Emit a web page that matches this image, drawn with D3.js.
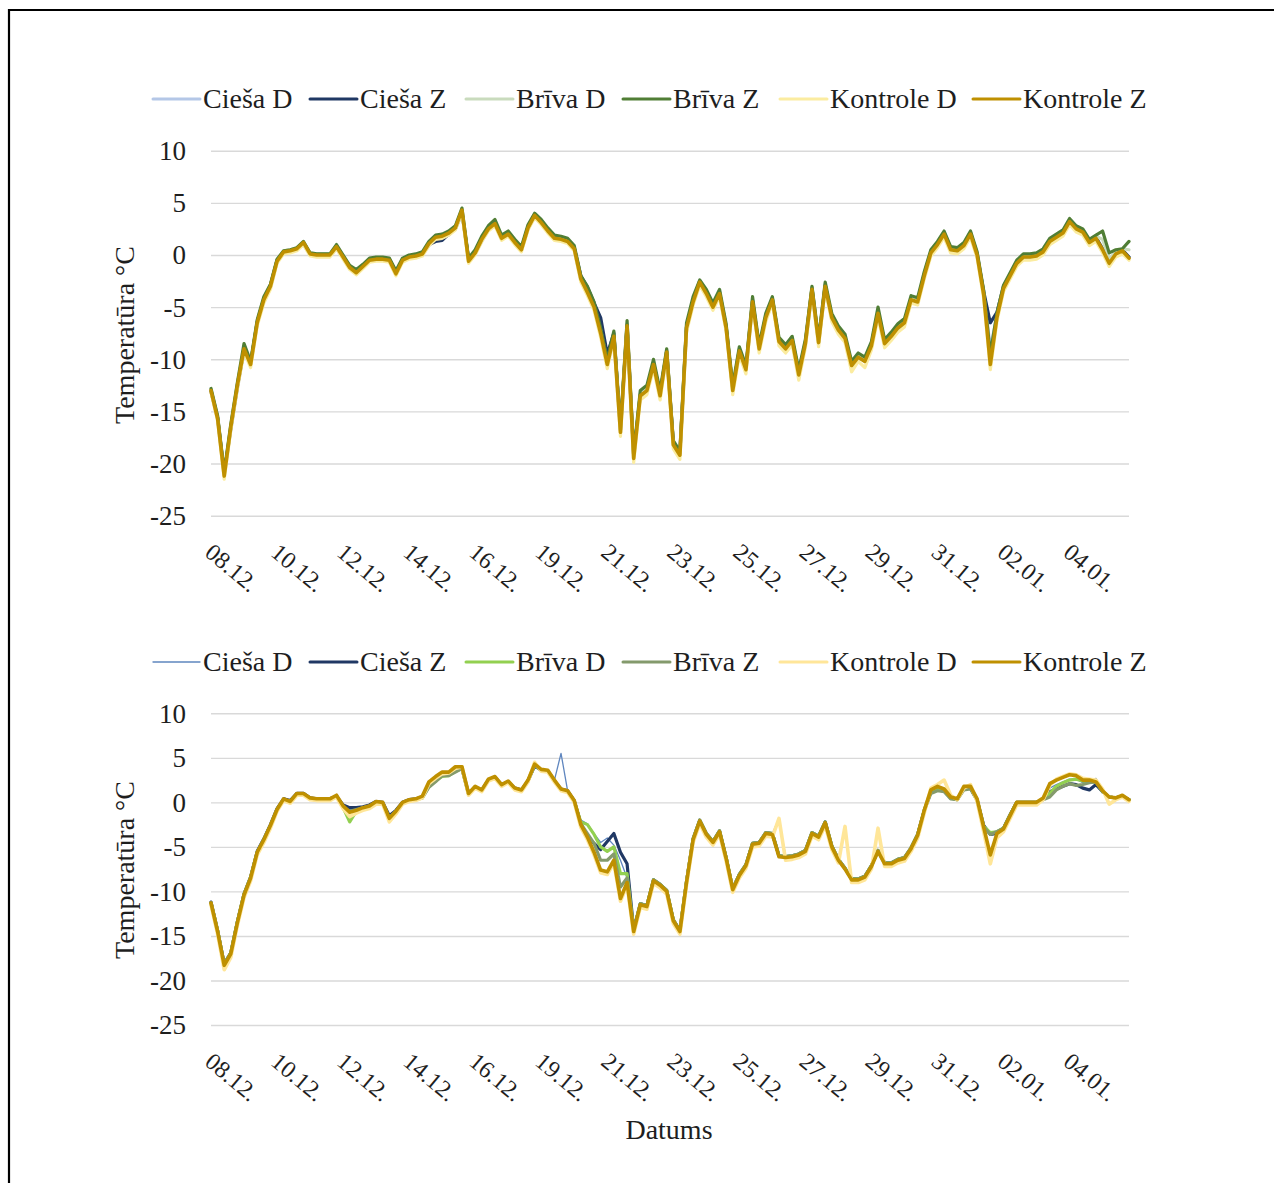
<!DOCTYPE html>
<html><head><meta charset="utf-8">
<script src="https://cdn.jsdelivr.net/npm/d3@7"></script>
<style>
body{margin:0;background:#fff;}
svg{display:block;}
text{font-family:"Liberation Serif","Times New Roman",serif;fill:#1e1e1e;}
</style>
</head><body>
<svg id="c" width="1274" height="1183"></svg>
<script>
// ---------- data ----------
const dateLabels = ["08.12.","10.12.","12.12.","14.12.","16.12.","19.12.","21.12.","23.12.","25.12.","27.12.","29.12.","31.12.","02.01.","04.01."];
const labelStep = 10;
const seriesNames = ["Cieša D","Cieša Z","Brīva D","Brīva Z","Kontrole D","Kontrole Z"];
const yTicks = [10,5,0,-5,-10,-15,-20,-25];

// Chart 1
const ciesaD1 = [-13.0,-15.5,-20.8,-16.8,-12.8,-9.2,-10.3,-6.6,-4.4,-3.1,
 -0.7,0.2,0.3,0.5,1.0,0.0,-0.1,-0.1,-0.1,0.6,
 -0.3,-1.3,-1.6,-1.2,-0.6,-0.5,-0.5,-0.6,-1.7,-0.6,
 -0.3,-0.2,0.0,0.9,1.5,1.6,1.9,2.5,3.9,-0.2,
 0.1,1.3,2.4,2.9,1.5,1.9,1.1,0.4,2.5,3.6,
 3.0,2.2,1.5,1.4,1.2,0.5,-2.4,-3.4,-4.8,-7.0,
 -10.0,-7.6,-16.5,-6.9,-19.0,-13.6,-13.1,-10.6,-13.4,-9.5,
 -18.0,-19.0,-7.2,-4.6,-2.8,-3.8,-5.1,-3.8,-7.1,-12.8,
 -9.3,-11.1,-4.7,-9.1,-6.1,-4.4,-8.4,-9.1,-8.3,-11.4,
 -8.6,-3.5,-8.5,-3.2,-6.1,-7.3,-8.1,-10.5,-9.9,-10.1,
 -8.8,-5.8,-8.6,-7.9,-7.1,-6.6,-4.4,-4.6,-2.1,0.1,
 0.9,1.9,0.4,0.2,0.8,1.9,-0.1,-3.5,-9.0,-5.8,
 -3.3,-2.1,-0.9,-0.3,-0.3,-0.2,0.2,1.2,1.6,2.0,
 3.0,2.4,2.1,1.1,1.5,0.4,-0.7,0.0,0.3,-0.2];
const ciesaZ1 = [-13.1,-15.6,-21.0,-16.6,-12.6,-9.1,-10.4,-6.4,-4.2,-2.9,
 -0.5,0.3,0.4,0.6,1.1,0.1,0.0,0.0,0.0,0.8,
 -0.1,-1.1,-1.5,-1.0,-0.4,-0.3,-0.3,-0.4,-1.6,-0.4,
 -0.1,0.0,0.2,1.0,1.3,1.4,2.0,2.5,4.1,-0.4,
 0.3,1.6,2.6,3.1,1.7,2.1,1.3,0.6,2.7,3.7,
 3.2,2.4,1.7,1.6,1.4,0.7,-2.0,-3.1,-4.6,-6.0,
 -9.5,-7.5,-16.8,-6.7,-19.3,-13.4,-12.9,-10.4,-13.3,-9.2,
 -18.0,-19.0,-6.9,-4.4,-2.5,-3.6,-4.9,-3.6,-6.9,-12.8,
 -9.1,-10.9,-4.4,-8.9,-5.9,-4.2,-8.2,-8.9,-8.1,-11.3,
 -8.4,-3.2,-8.3,-2.9,-5.9,-7.1,-7.9,-10.5,-9.7,-10.1,
 -8.6,-5.4,-8.4,-7.7,-6.9,-6.4,-4.2,-4.4,-1.9,0.3,
 1.1,2.1,0.6,0.5,1.0,2.1,0.1,-3.5,-6.5,-5.5,
 -3.0,-1.9,-0.7,-0.1,-0.1,0.0,0.4,1.4,1.8,2.2,
 3.3,2.6,2.3,1.3,1.7,0.6,-0.7,0.2,0.5,-0.2];
const brivaD1 = [-12.9,-15.6,-21.0,-16.4,-12.4,-8.9,-10.4,-6.4,-4.2,-2.9,
 -0.5,0.4,0.5,0.7,1.2,0.2,0.1,0.1,0.1,0.9,
 -0.1,-1.1,-1.6,-1.0,-0.4,-0.3,-0.3,-0.4,-1.7,-0.4,
 -0.1,0.0,0.2,1.2,1.8,1.9,2.2,2.7,4.2,-0.5,
 0.3,1.6,2.6,3.1,1.7,2.1,1.3,0.6,2.7,3.8,
 3.2,2.4,1.7,1.6,1.4,0.7,-2.2,-3.4,-4.8,-7.2,
 -10.2,-7.6,-16.8,-6.6,-19.3,-13.3,-12.8,-10.3,-13.3,-9.1,
 -18.0,-19.0,-6.8,-4.3,-2.5,-3.5,-4.8,-3.5,-6.8,-12.8,
 -9.0,-10.8,-4.3,-8.8,-5.8,-4.1,-8.1,-8.8,-8.0,-11.3,
 -8.3,-3.1,-8.2,-2.8,-5.8,-7.0,-7.8,-10.4,-9.6,-10.0,
 -8.5,-5.4,-8.3,-7.6,-6.8,-6.3,-4.1,-4.3,-1.8,0.4,
 1.2,2.2,0.7,0.6,1.1,2.2,0.2,-3.6,-10.0,-5.8,
 -3.0,-1.8,-0.6,0.0,0.0,0.1,0.5,1.5,1.9,2.3,
 3.4,2.7,2.4,1.4,1.8,1.5,-0.4,0.3,0.6,0.5];
const brivaZ1 = [-12.8,-15.4,-20.8,-16.2,-12.2,-8.5,-10.2,-6.2,-4.0,-2.8,
 -0.4,0.4,0.5,0.7,1.3,0.2,0.1,0.1,0.1,1.0,
 0.0,-1.0,-1.4,-0.9,-0.3,-0.2,-0.2,-0.3,-1.5,-0.3,
 0.0,0.1,0.3,1.3,1.9,2.0,2.3,2.8,4.5,-0.3,
 0.5,1.8,2.8,3.4,1.9,2.3,1.5,0.8,2.9,4.0,
 3.4,2.6,1.9,1.8,1.6,0.9,-2.0,-3.0,-4.5,-7.0,
 -10.0,-7.3,-16.5,-6.3,-19.0,-13.0,-12.5,-10.0,-13.0,-9.0,
 -17.8,-18.8,-6.5,-4.0,-2.4,-3.3,-4.6,-3.3,-6.6,-12.5,
 -8.8,-10.6,-4.0,-8.6,-5.6,-4.0,-7.9,-8.6,-7.8,-11.0,
 -8.1,-3.0,-8.0,-2.6,-5.6,-6.8,-7.6,-10.2,-9.4,-9.8,
 -8.3,-5.0,-8.1,-7.4,-6.6,-6.1,-3.9,-4.1,-1.6,0.5,
 1.3,2.3,0.8,0.7,1.2,2.3,0.3,-3.4,-9.5,-5.6,
 -2.9,-1.7,-0.5,0.1,0.1,0.2,0.6,1.6,2.0,2.4,
 3.5,2.8,2.5,1.5,1.9,2.3,0.2,0.5,0.6,1.3];
const kontroleD1 = [-13.2,-15.9,-21.5,-16.8,-12.8,-9.3,-10.8,-6.8,-4.6,-3.3,
 -0.8,0.1,0.2,0.4,1.0,-0.1,-0.2,-0.2,-0.2,0.6,
 -0.4,-1.4,-1.9,-1.3,-0.7,-0.6,-0.6,-0.7,-2.0,-0.7,
 -0.4,-0.3,-0.1,0.9,1.5,1.6,1.9,2.4,4.0,-0.8,
 0.0,1.3,2.3,2.8,1.4,1.8,1.0,0.3,2.4,3.6,
 2.9,2.1,1.4,1.3,1.1,0.4,-2.6,-3.9,-5.3,-7.9,
 -10.9,-8.1,-17.4,-7.1,-19.9,-13.9,-13.4,-10.9,-13.9,-9.7,
 -18.6,-19.6,-7.4,-4.8,-2.9,-4.0,-5.3,-4.0,-7.3,-13.4,
 -9.6,-11.4,-4.8,-9.4,-6.4,-4.6,-8.7,-9.4,-8.6,-12.0,
 -8.9,-3.6,-8.8,-3.3,-6.4,-7.6,-8.4,-11.2,-10.2,-10.8,
 -9.1,-6.0,-8.9,-8.2,-7.4,-6.9,-4.6,-4.8,-2.3,-0.1,
 0.7,1.7,0.2,0.1,0.6,1.7,-0.3,-4.2,-11.0,-6.4,
 -3.5,-2.3,-1.1,-0.5,-0.5,-0.4,0.0,1.0,1.4,1.8,
 2.9,2.2,1.9,0.9,1.3,0.2,-1.1,-0.2,0.1,-0.5];
const kontroleZ1 = [-13.0,-15.7,-21.2,-16.5,-12.5,-9.0,-10.5,-6.5,-4.3,-3.0,
 -0.6,0.3,0.4,0.6,1.2,0.1,0.0,0.0,0.0,0.8,
 -0.2,-1.2,-1.7,-1.1,-0.5,-0.4,-0.4,-0.5,-1.8,-0.5,
 -0.2,-0.1,0.1,1.1,1.7,1.8,2.1,2.6,4.3,-0.6,
 0.2,1.5,2.5,3.0,1.6,2.0,1.2,0.5,2.6,3.8,
 3.1,2.3,1.6,1.5,1.3,0.6,-2.3,-3.6,-5.0,-7.5,
 -10.5,-7.8,-17.0,-6.8,-19.5,-13.5,-13.0,-10.5,-13.5,-9.3,
 -18.2,-19.2,-7.0,-4.5,-2.6,-3.7,-5.0,-3.7,-7.0,-13.0,
 -9.2,-11.0,-4.5,-9.0,-6.0,-4.3,-8.3,-9.0,-8.2,-11.5,
 -8.5,-3.3,-8.4,-3.0,-6.0,-7.2,-8.0,-10.6,-9.8,-10.2,
 -8.7,-5.6,-8.5,-7.8,-7.0,-6.5,-4.3,-4.5,-2.0,0.2,
 1.0,2.0,0.5,0.4,0.9,2.0,0.0,-3.8,-10.5,-6.0,
 -3.2,-2.0,-0.8,-0.2,-0.2,-0.1,0.3,1.3,1.7,2.1,
 3.2,2.5,2.2,1.2,1.6,0.5,-0.8,0.1,0.4,-0.3];

// Chart 2
const ciesaD2 = [-11.2,-14.3,-18.0,-16.8,-13.3,-10.2,-8.3,-5.5,-4.1,-2.5,
 -0.7,0.5,0.2,1.0,1.0,0.5,0.4,0.4,0.4,0.7,
 -0.3,-0.8,-0.7,-0.5,-0.3,0.1,0.0,-1.6,-0.9,0.0,
 0.3,0.4,0.6,1.8,2.4,2.9,3.0,3.6,3.8,1.0,
 1.7,1.4,2.5,2.8,2.0,2.3,1.6,1.4,2.4,4.1,
 3.6,3.5,2.5,5.5,1.3,0.3,-2.0,-2.4,-3.5,-4.5,
 -4.0,-4.8,-6.5,-8.5,-14.2,-11.3,-11.5,-8.7,-9.2,-9.9,
 -13.1,-14.3,-8.9,-4.1,-2.0,-3.5,-4.4,-3.2,-6.2,-9.6,
 -8.1,-7.0,-4.6,-4.5,-3.4,-3.5,-1.8,-6.0,-6.0,-5.8,
 -5.4,-3.4,-3.8,-2.2,-4.9,-6.4,-2.7,-8.5,-8.5,-8.2,
 -7.1,-5.4,-6.8,-6.8,-6.4,-6.2,-5.1,-3.6,-0.9,1.2,
 1.5,1.4,0.6,0.4,1.7,1.7,0.4,-2.6,-3.4,-3.2,
 -2.8,-1.4,0.0,0.0,0.0,0.0,0.4,1.6,2.0,2.3,
 2.6,2.6,2.2,2.3,2.7,1.2,0.6,0.5,0.7,0.3];
const ciesaZ2 = [-11.2,-14.4,-18.1,-16.9,-13.4,-10.3,-8.4,-5.5,-4.1,-2.5,
 -0.7,0.4,0.2,1.0,1.0,0.5,0.4,0.4,0.4,0.7,
 -0.3,-0.6,-0.6,-0.5,-0.3,0.1,0.0,-1.5,-0.9,0.0,
 0.3,0.4,0.6,1.9,2.5,3.0,3.1,3.7,3.8,1.0,
 1.7,1.4,2.5,2.8,2.0,2.3,1.6,1.4,2.4,4.1,
 3.6,3.5,2.4,1.5,1.3,0.2,-2.4,-3.9,-4.6,-5.3,
 -4.4,-3.5,-5.6,-6.9,-14.3,-11.4,-11.6,-8.7,-9.2,-9.9,
 -13.2,-14.4,-8.9,-4.1,-2.0,-3.5,-4.4,-3.2,-6.2,-9.7,
 -8.1,-7.0,-4.6,-4.5,-3.4,-3.5,-6.0,-6.1,-6.0,-5.8,
 -5.4,-3.4,-3.8,-2.2,-4.9,-6.4,-7.4,-8.6,-8.6,-8.3,
 -7.1,-5.4,-6.8,-6.8,-6.4,-6.2,-5.1,-3.6,-0.9,1.2,
 1.5,1.3,0.5,0.3,1.6,1.6,0.3,-2.6,-3.6,-3.5,
 -2.9,-1.4,0.0,0.0,0.0,0.0,0.4,1.2,1.5,1.8,
 2.1,2.0,1.6,1.4,2.0,1.2,0.6,0.5,0.7,0.3];
const brivaD2 = [-11.3,-14.4,-18.2,-16.9,-13.4,-10.3,-8.4,-5.6,-4.2,-2.6,
 -0.8,0.3,0.1,0.9,0.9,0.4,0.3,0.3,0.3,0.7,
 -0.6,-2.2,-1.0,-0.7,-0.5,0.0,-0.1,-1.9,-1.1,-0.1,
 0.2,0.3,0.5,1.8,2.4,2.9,3.0,3.5,3.8,0.9,
 1.7,1.3,2.5,2.8,1.9,2.3,1.5,1.3,2.4,4.2,
 3.6,3.5,2.4,1.4,1.2,0.1,-2.2,-2.5,-3.6,-5.0,
 -5.5,-5.0,-8.0,-8.0,-14.4,-11.4,-11.6,-8.7,-9.2,-9.9,
 -13.2,-14.4,-8.9,-4.1,-2.0,-3.5,-4.4,-3.2,-6.2,-9.7,
 -8.1,-7.0,-4.6,-4.5,-3.4,-3.5,-6.0,-6.1,-6.0,-5.8,
 -5.4,-3.4,-3.8,-2.2,-4.9,-6.4,-7.4,-8.6,-8.6,-8.3,
 -7.1,-5.4,-6.8,-6.8,-6.4,-6.2,-5.1,-3.6,-0.9,1.3,
 1.6,1.4,0.5,0.3,1.6,1.6,0.3,-2.7,-3.4,-3.3,
 -2.9,-1.4,0.0,0.0,0.0,0.0,0.4,1.0,1.8,2.2,
 2.5,2.6,2.4,2.3,2.3,1.2,0.6,0.5,0.7,0.3];
const brivaZ2 = [-11.3,-14.4,-18.2,-16.9,-13.4,-10.3,-8.4,-5.6,-4.2,-2.6,
 -0.8,0.3,0.1,0.9,0.9,0.4,0.3,0.3,0.3,0.7,
 -0.5,-1.0,-0.8,-0.6,-0.4,0.0,-0.1,-1.7,-1.0,-0.1,
 0.2,0.3,0.5,1.7,2.3,3.0,3.0,3.4,3.8,0.9,
 1.7,1.3,2.5,2.8,1.9,2.3,1.5,1.3,2.4,4.2,
 3.6,3.5,2.4,1.4,1.2,0.1,-2.4,-3.5,-4.6,-6.5,
 -6.5,-5.8,-9.5,-8.5,-14.4,-11.4,-11.6,-8.7,-9.2,-9.9,
 -13.2,-14.4,-8.9,-4.1,-2.0,-3.5,-4.4,-3.2,-6.2,-9.7,
 -8.1,-7.0,-4.6,-4.5,-3.4,-3.5,-6.0,-6.1,-6.0,-5.8,
 -5.4,-3.4,-3.8,-2.2,-4.9,-6.4,-7.4,-8.6,-8.6,-8.3,
 -7.1,-5.4,-6.8,-6.8,-6.4,-6.2,-5.1,-3.6,-0.9,1.0,
 1.3,1.2,0.4,0.3,1.4,1.5,0.2,-2.8,-3.6,-3.3,
 -2.9,-1.4,0.0,0.0,0.0,0.0,0.3,0.6,1.4,1.8,
 2.1,1.9,2.0,2.2,2.3,1.2,0.6,0.5,0.7,0.3];
const kontroleD2 = [-11.5,-14.8,-18.8,-17.4,-13.8,-10.7,-8.8,-5.9,-4.5,-2.9,
 -1.0,0.2,-0.1,0.8,0.8,0.3,0.2,0.2,0.2,0.6,
 -0.7,-1.6,-1.2,-0.9,-0.7,-0.2,-0.2,-2.2,-1.3,-0.2,
 0.1,0.2,0.5,2.1,2.7,3.2,3.3,3.8,4.0,0.8,
 1.6,1.2,2.4,2.7,1.8,2.2,1.4,1.2,2.3,4.5,
 3.5,3.4,2.3,1.3,1.1,0.0,-2.8,-4.2,-5.9,-7.9,
 -8.1,-6.8,-11.1,-9.3,-14.8,-11.8,-12.0,-9.1,-9.6,-10.3,
 -13.6,-14.8,-9.3,-4.5,-2.4,-3.9,-4.8,-3.6,-6.6,-10.1,
 -8.5,-7.4,-5.0,-4.9,-3.8,-3.9,-1.8,-6.5,-6.4,-6.2,
 -5.8,-3.8,-4.2,-2.6,-5.3,-6.8,-2.7,-9.0,-9.0,-8.7,
 -7.5,-2.9,-7.2,-7.2,-6.8,-6.6,-5.5,-4.0,-1.2,1.6,
 2.0,2.5,0.8,0.3,1.6,2.0,0.1,-3.3,-6.9,-4.0,
 -3.3,-1.8,-0.3,-0.3,-0.3,-0.3,0.3,1.9,2.6,2.9,
 3.2,3.1,2.7,2.6,2.5,1.5,-0.2,0.3,0.6,0.1];
const kontroleZ2 = [-11.3,-14.5,-18.3,-17.0,-13.5,-10.4,-8.5,-5.6,-4.2,-2.6,
 -0.8,0.4,0.1,1.0,1.0,0.5,0.4,0.4,0.4,0.8,
 -0.4,-1.1,-0.9,-0.6,-0.4,0.1,0.0,-1.8,-1.0,0.0,
 0.3,0.4,0.7,2.3,2.9,3.4,3.4,4.0,4.0,1.0,
 1.8,1.4,2.6,2.9,2.0,2.4,1.6,1.4,2.5,4.3,
 3.7,3.6,2.5,1.5,1.3,0.2,-2.5,-3.9,-5.6,-7.6,
 -7.8,-6.5,-10.8,-9.0,-14.5,-11.5,-11.7,-8.8,-9.3,-10.0,
 -13.3,-14.5,-9.0,-4.2,-2.1,-3.6,-4.5,-3.3,-6.3,-9.8,
 -8.2,-7.1,-4.7,-4.6,-3.5,-3.6,-6.1,-6.2,-6.1,-5.9,
 -5.5,-3.5,-3.9,-2.3,-5.0,-6.5,-7.5,-8.7,-8.7,-8.4,
 -7.2,-5.5,-6.9,-6.9,-6.5,-6.3,-5.2,-3.7,-0.9,1.4,
 1.8,1.5,0.6,0.4,1.8,1.8,0.4,-2.8,-5.9,-3.5,
 -3.0,-1.5,0.0,0.0,0.0,0.0,0.5,2.1,2.5,2.8,
 3.1,3.0,2.5,2.5,2.3,1.3,0.6,0.5,0.8,0.3];

// ---------- styles / layout ----------
const colors1 = ["#b4c7e7","#203864","#c9dbbd","#507e35","#fbeca0","#bf9000"];
const widths1 = [3.2,3.2,3.2,3.2,3.2,3.6];
const colors2 = ["#5f86bf","#203864","#92d050","#849a6c","#ffe699","#bf9000"];
const widths2 = [1.3,3.2,3.2,3.2,3.6,3.6];

const charts = [
  {top:150.7, bottom:515.7, legendY:99, series:[ciesaD1,ciesaZ1,brivaD1,brivaZ1,kontroleD1,kontroleZ1], colors:colors1, widths:widths1, titleY:335},
  {top:713.3, bottom:1025, legendY:662, series:[ciesaD2,ciesaZ2,brivaD2,brivaZ2,kontroleD2,kontroleZ2], colors:colors2, widths:widths2, titleY:870}
];
const plotLeft = 211, plotRight = 1129;
const legendLineX = [153,310,466,623,780,973];

const svg = d3.select("#c");
svg.append("rect").attr("width",1274).attr("height",1183).attr("fill","#fff");
// frame (top + left)
svg.append("path").attr("d","M9,1183 V10 H1274").attr("fill","none").attr("stroke","#000").attr("stroke-width",2.2);

charts.forEach(ch => {
  const n = ch.series[5].length;
  const x = d3.scaleLinear().domain([0, n-1]).range([plotLeft, plotRight]);
  const y = d3.scaleLinear().domain([-25,10]).range([ch.bottom, ch.top]);
  const g = svg.append("g");

  // y axis with gridlines
  const ya = g.append("g").attr("transform",`translate(${plotLeft},0)`)
    .call(d3.axisLeft(y).tickValues(yTicks).tickFormat(d => String(d)).tickSizeInner(-(plotRight-plotLeft)).tickSizeOuter(0).tickPadding(25));
  ya.select(".domain").remove();
  ya.selectAll(".tick line").attr("stroke","#d9d9d9").attr("stroke-width",1.4);
  ya.selectAll(".tick text").attr("font-size",27).attr("font-family","Liberation Serif").attr("fill","#1e1e1e").attr("dy","0.33em");

  // x axis labels
  const xa = g.append("g").attr("transform",`translate(0,${ch.bottom})`)
    .call(d3.axisBottom(x).tickValues(d3.range(0, dateLabels.length*labelStep, labelStep)).tickFormat(i => dateLabels[i/labelStep]).tickSize(0));
  xa.select(".domain").remove();
  xa.selectAll(".tick text")
    .attr("font-size",24).attr("font-family","Liberation Serif").attr("fill","#1e1e1e")
    .attr("text-anchor","start").attr("y",0).attr("dy",0)
    .attr("transform","translate(-8,39) rotate(40)");

  // lines
  const line = d3.line().x((d,i)=>x(i)).y(d=>y(d));
  ch.series.forEach((s,k) => {
    g.append("path").datum(s).attr("d",line).attr("fill","none")
      .attr("stroke",ch.colors[k]).attr("stroke-width",ch.widths[k])
      .attr("stroke-linejoin","round").attr("stroke-linecap","round");
  });

  // y title
  g.append("text").attr("transform",`translate(134,${ch.titleY}) rotate(-90)`)
    .attr("text-anchor","middle").attr("font-size",28).text("Temperatūra °C");

  // legend
  seriesNames.forEach((nm,k) => {
    const lx = legendLineX[k];
    g.append("line").attr("x1",lx).attr("x2",lx+47).attr("y1",ch.legendY).attr("y2",ch.legendY)
      .attr("stroke",ch.colors[k]).attr("stroke-width",Math.min(ch.widths[k],3)).attr("stroke-linecap","round");
    g.append("text").attr("x",lx+50).attr("y",ch.legendY+9).attr("font-size",28).text(nm);
  });
});

svg.append("text").attr("x",669).attr("y",1139).attr("text-anchor","middle").attr("font-size",28).text("Datums");
</script>
</body></html>
